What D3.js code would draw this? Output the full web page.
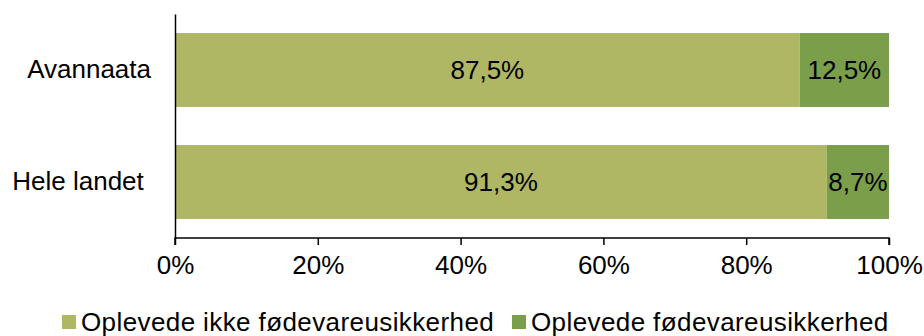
<!DOCTYPE html>
<html>
<head>
<meta charset="utf-8">
<script src="https://cdn.jsdelivr.net/npm/d3@7"></script>
<style>
  html, body { margin: 0; padding: 0; background: #fff; }
  svg { display: block; font-family: Arial, "Liberation Sans", sans-serif; }
  .y-axis text { white-space: pre; }
</style>
</head>
<body>
<svg id="chart" width="924" height="336"></svg>
<script>
// Share of households by food-insecurity experience
const categories = ["Avannaata", "Hele landet "];
const seriesNames = ["Oplevede ikke fødevareusikkerhed", "Oplevede fødevareusikkerhed"];
const notInsecure = [87.5, 91.3];
const insecure = [12.5, 8.7];
const tickValues = [0, 20, 40, 60, 80, 100];
const colors = ["#afb765", "#7a9e4a"];

const FONT = "Arial, 'Liberation Sans', sans-serif";
const svg = d3.select("#chart");
const margin = { left: 175, right: 35, top: 14, bottom: 98 };
const W = 924, H = 336;

const x = d3.scaleLinear().domain([0, 100]).range([margin.left, W - margin.right]);
const y = d3.scaleBand().domain(categories).range([margin.top, H - margin.bottom]).paddingInner(0.34).paddingOuter(0.17);

const rows = categories.map((c, i) => ({ cat: c, values: [notInsecure[i], insecure[i]] }));
const stack = d3.stack().keys([0, 1]).value((d, k) => d.values[k]);
const layers = stack(rows);

const g = svg.append("g");
layers.forEach((layer, k) => {
  g.selectAll(null).data(layer).join("rect")
    .attr("x", d => x(d[0]))
    .attr("width", d => x(d[1]) - x(d[0]))
    .attr("y", d => y(d.data.cat))
    .attr("height", y.bandwidth())
    .attr("fill", colors[k]);
  g.selectAll(null).data(layer).join("text")
    .attr("x", d => (x(d[0]) + x(d[1])) / 2)
    .attr("y", d => y(d.data.cat) + y.bandwidth() / 2)
    .attr("dy", "0.35em")
    .attr("text-anchor", "middle")
    .attr("font-size", 26)
    .attr("fill", "#000")
    .text(d => d3.format(".1f")(d.data.values[k]).replace(".", ",") + "%");
});

// x axis
const xAxis = d3.axisBottom(x).tickValues(tickValues).tickSize(7).tickPadding(11)
  .tickFormat(d => d + "%");
const xg = svg.append("g").attr("transform", `translate(0,${H - margin.bottom})`).call(xAxis);
xg.select(".domain").attr("stroke", "#000").attr("stroke-width", 1.5).attr("d", `M${x(0)},7V0H${x(100)}V7`);
xg.selectAll(".tick line").attr("stroke", "#000").attr("stroke-width", 1.5);
xg.selectAll(".tick text").attr("font-size", 26).attr("font-family", FONT).attr("fill", "#000");

// y axis
const yAxis = d3.axisLeft(y).tickSize(0).tickPadding(24);
const yg = svg.append("g").attr("class", "y-axis").attr("transform", `translate(${x(0)},0)`).call(yAxis);
yg.select(".domain").attr("stroke", "#000").attr("stroke-width", 1.5);
yg.selectAll(".tick text").attr("font-size", 26).attr("font-family", FONT).attr("fill", "#000");

// legend
const legendX = [62, 512];
const lg = svg.append("g");
seriesNames.forEach((name, k) => {
  lg.append("rect").attr("x", legendX[k]).attr("y", 315).attr("width", 14).attr("height", 14).attr("fill", colors[k]);
  lg.append("text").attr("x", legendX[k] + 19).attr("y", 322).attr("dy", "0.35em")
    .attr("font-size", 26).attr("letter-spacing", 0.4).attr("fill", "#000").text(name);
});
</script>
</body>
</html>
